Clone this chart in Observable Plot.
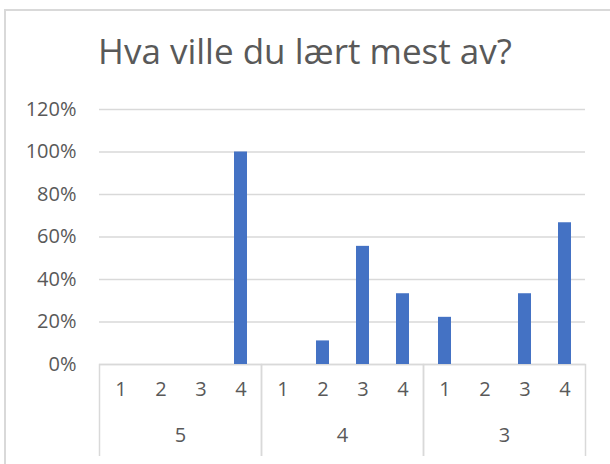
<!DOCTYPE html>
<html>
<head>
<meta charset="utf-8">
<script src="https://cdn.jsdelivr.net/npm/d3@7"></script>
<script src="https://cdn.jsdelivr.net/npm/@observablehq/plot@0.6"></script>
<style>
  html, body { margin: 0; padding: 0; background: #fff; }
  #wrap { position: relative; width: 610px; height: 464px; overflow: hidden; background: #fff; }
  #border { position: absolute; left: 4px; top: 9px; width: 700px; height: 600px;
            border-left: 2px solid #d9d9d9; border-top: 2px solid #d9d9d9; }
  #title { position: absolute; left: 0; top: 0; width: 610px; height: 100px;
           display: flex; align-items: center; justify-content: center;
           font-family: "Open Sans", sans-serif; font-size: 35px; color: #595959; }
  #chart { position: absolute; left: 0; top: 90px; }
  #chart svg text { font-family: "Open Sans", sans-serif; font-size: 20px; fill: #595959; }
</style>
</head>
<body>
<div id="wrap">
  <div id="border"></div>
  <div id="title">Hva ville du lært mest av?</div>
  <div id="chart"></div>
</div>
<script>
const titleText = "Hva ville du lært mest av?";
const groups = ["5", "4", "3"];
const subs = ["1", "2", "3", "4"];
const valuesGroup5 = [0, 0, 0, 1.0];
const valuesGroup4 = [0, 0.111, 0.556, 0.333];
const valuesGroup3 = [0.222, 0, 0.333, 0.667];
const yTicks = [0, 0.2, 0.4, 0.6, 0.8, 1.0, 1.2];

document.getElementById("title").textContent = titleText;

const seriesByGroup = [valuesGroup5, valuesGroup4, valuesGroup3];
const rows = groups.flatMap((g, gi) => subs.map((s, si) => ({group: g, sub: s, value: seriesByGroup[gi][si]})));

const chart = Plot.plot({
  width: 610,
  height: 366,
  marginLeft: 98,
  marginRight: 25,
  marginTop: 19,
  marginBottom: 92,
  style: {fontFamily: "Open Sans", fontSize: "20px", color: "#595959", overflow: "hidden", background: "transparent"},
  facet: {data: rows, x: "group"},
  fx: {domain: groups, paddingInner: 0, paddingOuter: 0, axis: null, label: null},
  x: {domain: subs, paddingInner: 0.68, paddingOuter: 0.34, axis: null, label: null},
  y: {domain: [0, 1.2], ticks: yTicks, tickFormat: d3.format(".0%"), tickSize: 0, tickPadding: 23, label: null},
  marks: [
    Plot.ruleY(yTicks, {stroke: "#d9d9d9", strokeWidth: 1.5}),
    Plot.frame({stroke: "#d9d9d9", strokeWidth: 1.5, insetTop: 255, insetBottom: -94}),
    Plot.barY(rows, {x: "sub", y: "value", fill: "#4472C4"}),
    Plot.text(subs, {x: d => d, text: d => d, frameAnchor: "bottom", dy: 31, fill: "#595959"}),
    Plot.text(rows, Plot.selectFirst({text: "group", frameAnchor: "bottom", dy: 77, fill: "#595959"}))
  ]
});
document.getElementById("chart").appendChild(chart);
</script>
</body>
</html>
